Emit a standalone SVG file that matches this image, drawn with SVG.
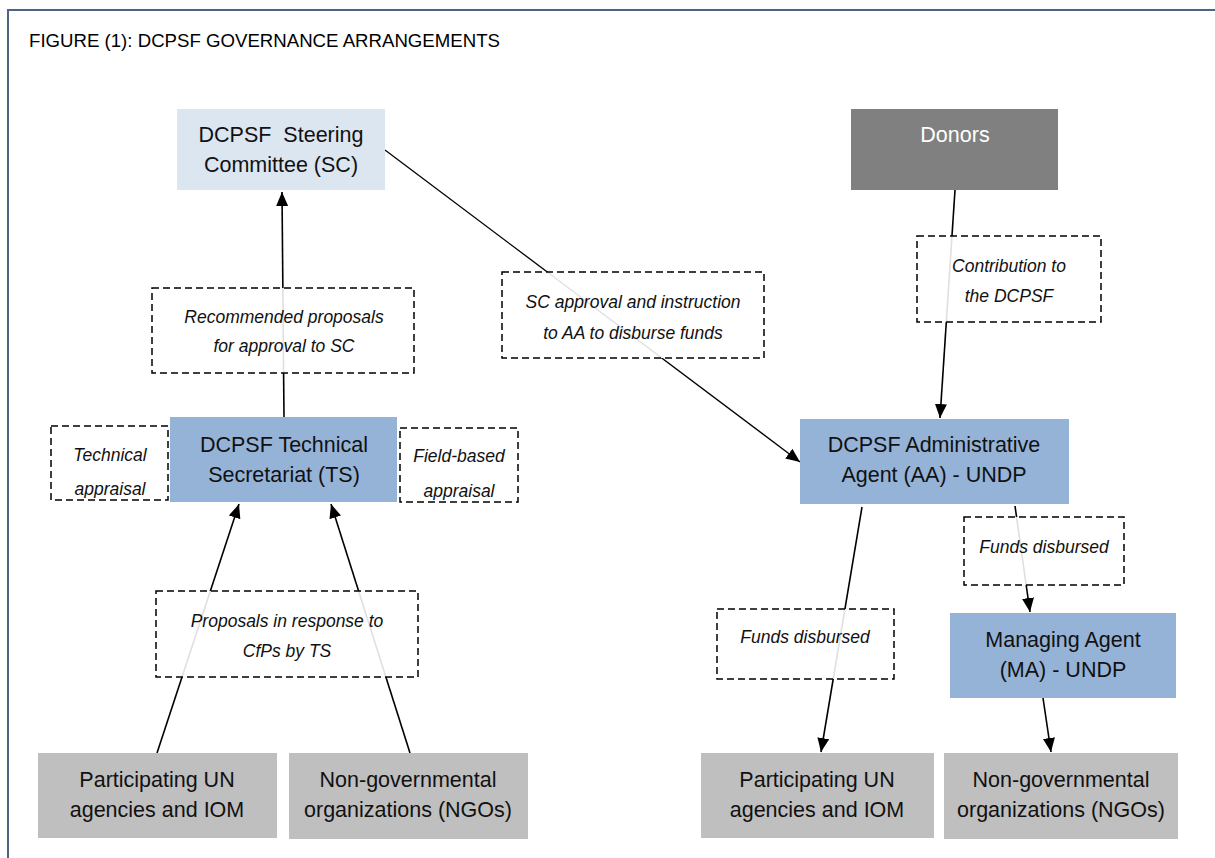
<svg xmlns="http://www.w3.org/2000/svg" width="1215" height="858" viewBox="0 0 1215 858">
<style>
.frame{fill:none;stroke:#4f6382;stroke-width:2}
.title{font-family:"Liberation Sans",Arial,sans-serif;font-size:18.5px;fill:#000}
.node text{font-family:"Liberation Sans",Arial,sans-serif;font-size:21.5px;fill:#111;text-anchor:middle}
.lbl text{font-family:"Liberation Sans",Arial,sans-serif;font-size:17.5px;font-style:italic;fill:#111;text-anchor:middle}
.lbl rect{fill:#fff;fill-opacity:0.88;stroke:#000;stroke-width:1.5;stroke-dasharray:7 4}
.sc{fill:#dce6f1}.blue{fill:#95b3d7}.dark{fill:#808080}.gray{fill:#bfbfbf}
.conn line{stroke:#000;stroke-width:1.6;marker-end:url(#arr)}
</style>
<defs>
<marker id="arr" viewBox="0 0 14 12" refX="14" refY="6" markerWidth="14" markerHeight="12" markerUnits="userSpaceOnUse" orient="auto">
<path d="M0,0 L14,6 L0,12 Z" fill="#000"/>
</marker>
<clipPath id="clipT"><rect x="51" y="426" width="117" height="72"/></clipPath>
<clipPath id="clipF"><rect x="400" y="428" width="118" height="72"/></clipPath>
</defs>
<rect width="1215" height="858" fill="#fff"/>
<path class="frame" d="M8,858 L8,10 L1215,10"/>
<text class="title" x="29" y="47" textLength="471" lengthAdjust="spacingAndGlyphs">FIGURE (1): DCPSF GOVERNANCE ARRANGEMENTS</text>

<g id="connectors" class="conn">
<line x1="284" y1="417" x2="282" y2="192"/>
<line x1="385" y1="150" x2="800" y2="462" style="stroke-width:1.3"/>
<line x1="955" y1="190" x2="940" y2="418"/>
<line x1="862" y1="507" x2="821" y2="752"/>
<line x1="1015" y1="506" x2="1030" y2="612"/>
<line x1="1043" y1="698" x2="1051" y2="752"/>
<line x1="157" y1="753" x2="239" y2="504"/>
<line x1="410" y1="753" x2="331" y2="504"/>
</g>

<g id="sc" class="node"><rect class="sc" x="177" y="109" width="208" height="81"/>
<text x="281" y="142">DCPSF&#160;&#160;Steering</text><text x="281" y="172">Committee (SC)</text></g>
<g id="donors" class="node"><rect class="dark" x="851" y="109" width="207" height="81"/>
<text x="955" y="142" style="fill:#fff">Donors</text></g>

<g id="lbl-recommended" class="lbl"><rect x="152" y="288" width="262" height="85"/>
<text x="284" y="323">Recommended proposals</text><text x="284" y="352">for approval to SC</text></g>
<g id="lbl-scapproval" class="lbl"><rect x="502" y="272" width="262" height="86"/>
<text x="633" y="308">SC approval and instruction</text><text x="633" y="339">to AA to disburse funds</text></g>
<g id="lbl-contribution" class="lbl"><rect x="917" y="236" width="184" height="86"/>
<text x="1009" y="272">Contribution to</text><text x="1009" y="302">the DCPSF</text></g>

<g id="ts" class="node"><rect class="blue" x="170" y="417" width="227" height="85"/>
<text x="284" y="452">DCPSF Technical</text><text x="284" y="482">Secretariat (TS)</text></g>
<g id="lbl-technical" class="lbl"><rect x="51" y="426" width="117" height="74"/>
<g clip-path="url(#clipT)"><text x="110" y="461">Technical</text><text x="110" y="495">appraisal</text></g></g>
<g id="lbl-field" class="lbl"><rect x="400" y="428" width="118" height="74"/>
<g clip-path="url(#clipF)"><text x="459" y="462">Field-based</text><text x="459" y="497">appraisal</text></g></g>

<g id="aa" class="node"><rect class="blue" x="800" y="419" width="269" height="85"/>
<text x="934" y="452">DCPSF Administrative</text><text x="934" y="482">Agent (AA) - UNDP</text></g>
<g id="lbl-funds-ma" class="lbl"><rect x="964" y="517" width="160" height="68"/>
<text x="1044" y="553">Funds disbursed</text></g>
<g id="lbl-funds-un" class="lbl"><rect x="717" y="609" width="177" height="70"/>
<text x="805" y="643">Funds disbursed</text></g>
<g id="ma" class="node"><rect class="blue" x="950" y="613" width="226" height="85"/>
<text x="1063" y="647">Managing Agent</text><text x="1063" y="677">(MA) - UNDP</text></g>

<g id="lbl-proposals" class="lbl"><rect x="156" y="591" width="262" height="86"/>
<text x="287" y="627">Proposals in response to</text><text x="287" y="657">CfPs by TS</text></g>

<g id="un-left" class="node"><rect class="gray" x="38" y="753" width="239" height="85"/>
<text x="157" y="787">Participating UN</text><text x="157" y="817">agencies and IOM</text></g>
<g id="ngo-left" class="node"><rect class="gray" x="289" y="753" width="239" height="86"/>
<text x="408" y="787">Non-governmental</text><text x="408" y="817">organizations (NGOs)</text></g>
<g id="un-right" class="node"><rect class="gray" x="701" y="753" width="233" height="85"/>
<text x="817" y="787">Participating UN</text><text x="817" y="817">agencies and IOM</text></g>
<g id="ngo-right" class="node"><rect class="gray" x="944" y="753" width="234" height="86"/>
<text x="1061" y="787">Non-governmental</text><text x="1061" y="817">organizations (NGOs)</text></g>
</svg>
